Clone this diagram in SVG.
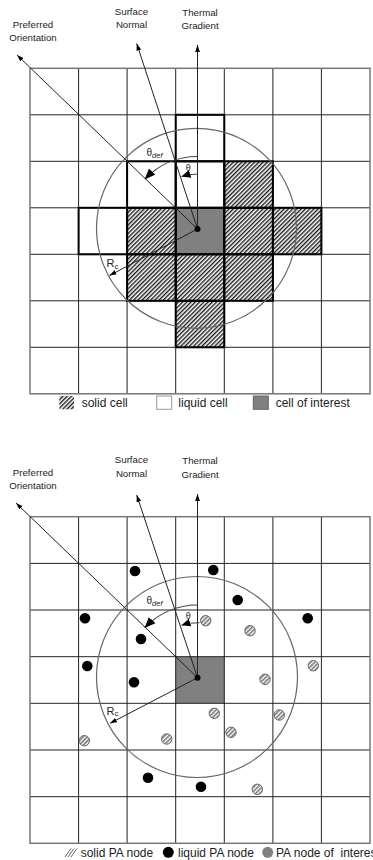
<svg xmlns="http://www.w3.org/2000/svg" width="373" height="860" viewBox="0 0 373 860">
<style>
.bg{fill:#fff}
.grid{stroke:#222;stroke-width:1;fill:none}
.border{stroke:#777;stroke-width:1.5;fill:none}
.bold{stroke:#000;stroke-width:2;fill:none}
.hatch{fill:url(#hatch)}
.interest{fill:#808080}
.ring{fill:none;stroke:#666;stroke-width:1.2}
.arrow{stroke:#222;stroke-width:1;fill:none;marker-end:url(#ah)}
.lbl{font-family:"Liberation Sans",Arial,sans-serif;font-size:9.7px;fill:#222;text-anchor:middle}
.sym{font-family:"Liberation Sans",Arial,sans-serif;fill:#222}
.leg{font-family:"Liberation Sans",Arial,sans-serif;font-size:12px;fill:#222}
.liq{fill:#000}
.sol{fill:url(#hatchNode);stroke:#666;stroke-width:1}
</style>
<defs>
<pattern id="hatch" patternUnits="userSpaceOnUse" width="3" height="3" patternTransform="rotate(45)">
<rect width="3" height="3" fill="#fff"/>
<line x1="0.7" y1="0" x2="0.7" y2="3" stroke="#1a1a1a" stroke-width="1.4"/>
</pattern>
<pattern id="hatchNode" patternUnits="userSpaceOnUse" width="3" height="3" patternTransform="rotate(45)">
<rect width="3" height="3" fill="#fff"/>
<line x1="0.8" y1="0" x2="0.8" y2="3" stroke="#777" stroke-width="1.6"/>
</pattern>
<marker id="ah" markerUnits="userSpaceOnUse" markerWidth="8" markerHeight="6" refX="7" refY="3" orient="auto"><path d="M0,0.6 L7,3 L0,5.4 z" fill="#000"/></marker>
<marker id="ahBig" markerUnits="userSpaceOnUse" markerWidth="12" markerHeight="10" refX="10" refY="5" orient="auto"><path d="M0,0.5 L11,5 L0,9.5 z" fill="#000"/></marker>
<marker id="ahMid" markerUnits="userSpaceOnUse" markerWidth="10" markerHeight="9" refX="9" refY="4.5" orient="auto"><path d="M0,0.5 L9,4.5 L0,8.5 z" fill="#000"/></marker>
</defs>
<rect class="bg" width="373" height="860"/>

<!-- ===== TOP DIAGRAM ===== -->
<g id="top-cells">
<rect class="hatch" x="224.3" y="161.3" width="48.6" height="46.5"/>
<rect class="hatch" x="127.1" y="207.8" width="48.6" height="46.5"/>
<rect class="hatch" x="224.3" y="207.8" width="48.6" height="46.5"/>
<rect class="hatch" x="272.9" y="207.8" width="48.5" height="46.5"/>
<rect class="hatch" x="127.1" y="254.3" width="48.6" height="46.5"/>
<rect class="hatch" x="175.7" y="254.3" width="48.6" height="46.5"/>
<rect class="hatch" x="224.3" y="254.3" width="48.6" height="46.5"/>
<rect class="hatch" x="175.7" y="300.8" width="48.6" height="46.5"/>
<rect class="interest" x="175.7" y="207.8" width="48.6" height="46.5"/>
</g>
<g id="top-grid">
<path class="grid" d="M78.6,68.3V393.8M127.1,68.3V393.8M175.7,68.3V393.8M224.3,68.3V393.8M272.9,68.3V393.8M321.4,68.3V393.8M30,114.8H370M30,161.3H370M30,207.8H370M30,254.3H370M30,300.8H370M30,347.3H370"/>
<rect class="border" x="30" y="68.3" width="340" height="325.5"/>
</g>
<g id="top-bold">
<rect class="bold" x="175.7" y="114.8" width="48.6" height="46.5"/>
<rect class="bold" x="127.1" y="161.3" width="48.6" height="46.5"/>
<rect class="bold" x="175.7" y="161.3" width="48.6" height="46.5"/>
<rect class="bold" x="224.3" y="161.3" width="48.6" height="46.5"/>
<rect class="bold" x="78.6" y="207.8" width="48.5" height="46.5"/>
<rect class="bold" x="127.1" y="207.8" width="48.6" height="46.5"/>
<rect class="bold" x="175.7" y="207.8" width="48.6" height="46.5"/>
<rect class="bold" x="224.3" y="207.8" width="48.6" height="46.5"/>
<rect class="bold" x="272.9" y="207.8" width="48.5" height="46.5"/>
<rect class="bold" x="127.1" y="254.3" width="48.6" height="46.5"/>
<rect class="bold" x="175.7" y="254.3" width="48.6" height="46.5"/>
<rect class="bold" x="224.3" y="254.3" width="48.6" height="46.5"/>
<rect class="bold" x="175.7" y="300.8" width="48.6" height="46.5"/>
</g>
<g id="top-circle"><circle class="ring" cx="196.5" cy="228.3" r="100"/></g>
<g id="top-connectors">
<path class="arrow" d="M197.5,229 L17,55"/>
<path class="arrow" d="M197.5,229 L136.7,43.5"/>
<path class="arrow" d="M197.5,229 L197.5,45"/>
<path class="arrow" d="M197.5,229 L109.5,275.5"/>
<path d="M197.5,156.5 A72.5,72.5 0 0 0 145.3,178.7" stroke="#444" stroke-width="1.2" fill="none" marker-end="url(#ahBig)"/>
<path d="M198,174 A55,55 0 0 0 181.5,176.6" stroke="#444" stroke-width="1" fill="none" marker-end="url(#ahMid)"/>
</g>
<g id="top-center"><circle cx="197.5" cy="229" r="3" fill="#000"/></g>
<g id="top-labels">
<text class="lbl" x="33" y="27.5">Preferred</text>
<text class="lbl" x="33" y="40.7">Orientation</text>
<text class="lbl" x="131.5" y="15">Surface</text>
<text class="lbl" x="131.5" y="28.4">Normal</text>
<text class="lbl" x="200" y="16">Thermal</text>
<text class="lbl" x="200" y="29.4">Gradient</text>
<text class="sym" x="146.5" y="155.5" font-size="10">θ<tspan font-size="7.5" font-style="italic" dy="2">def</tspan></text>
<text class="sym" x="188.3" y="170.5" font-size="9" text-anchor="middle">θ</text>
<text class="sym" x="106.5" y="266.7" font-size="11">R<tspan font-size="8" dy="1.8">c</tspan></text>
</g>
<g id="top-legend">
<rect class="hatch" x="59.3" y="396" width="14.7" height="13.3"/>
<text class="leg" x="81.7" y="407">solid cell</text>
<rect x="156.7" y="396" width="15" height="13.3" fill="#fff" stroke="#999" stroke-width="1"/>
<text class="leg" x="178.3" y="407">liquid cell</text>
<rect x="253.3" y="396" width="15" height="13.3" fill="#808080" stroke="#666" stroke-width="1"/>
<text class="leg" x="275.7" y="407">cell of interest</text>
</g>

<!-- ===== BOTTOM DIAGRAM ===== -->
<g id="bottom-cells"><rect class="interest" x="175.7" y="656.7" width="48.6" height="46.6"/></g>
<g id="bottom-grid">
<path class="grid" d="M78.6,516.7V843.3M127.1,516.7V843.3M175.7,516.7V843.3M224.3,516.7V843.3M272.9,516.7V843.3M321.4,516.7V843.3M30,563.4H370M30,610H370M30,656.7H370M30,703.3H370M30,750H370M30,796.7H370"/>
<rect class="border" x="30" y="516.7" width="340" height="326.6"/>
</g>
<g id="bottom-circle"><circle class="ring" cx="197" cy="677" r="100.5" stroke="#444"/></g>
<g id="bottom-connectors">
<path class="arrow" d="M197.5,677.7 L16,503"/>
<path class="arrow" d="M197.5,677.7 L136.7,495"/>
<path class="arrow" d="M197.5,677.7 L197.5,494"/>
<path class="arrow" d="M197.5,677.7 L110,723.3"/>
<path d="M197.5,605 A72.7,72.7 0 0 0 145.2,627.3" stroke="#444" stroke-width="1.2" fill="none" marker-end="url(#ahBig)"/>
<path d="M199.5,622.7 A55,55 0 0 0 181.5,625.3" stroke="#444" stroke-width="1" fill="none" marker-end="url(#ahMid)"/>
</g>
<g id="bottom-center"><circle cx="197.5" cy="677.7" r="3" fill="#000"/></g>
<g id="pa-liquid-1"><circle class="liq" cx="135" cy="571" r="5.3"/></g>
<g id="pa-liquid-2"><circle class="liq" cx="213.3" cy="570" r="5.3"/></g>
<g id="pa-liquid-3"><circle class="liq" cx="237.7" cy="600" r="5.3"/></g>
<g id="pa-liquid-4"><circle class="liq" cx="85" cy="618.3" r="5.3"/></g>
<g id="pa-liquid-5"><circle class="liq" cx="307.7" cy="618.3" r="5.3"/></g>
<g id="pa-liquid-6"><circle class="liq" cx="141" cy="639" r="5.3"/></g>
<g id="pa-liquid-7"><circle class="liq" cx="87.3" cy="666" r="5.3"/></g>
<g id="pa-liquid-8"><circle class="liq" cx="134" cy="682.3" r="5.3"/></g>
<g id="pa-liquid-9"><circle class="liq" cx="148" cy="777.7" r="5.3"/></g>
<g id="pa-liquid-10"><circle class="liq" cx="201" cy="786.7" r="5.3"/></g>
<g id="pa-solid-1"><circle class="sol" cx="205.7" cy="620.7" r="5.2"/></g>
<g id="pa-solid-2"><circle class="sol" cx="250" cy="630.7" r="5.2"/></g>
<g id="pa-solid-3"><circle class="sol" cx="313.3" cy="665.7" r="5.2"/></g>
<g id="pa-solid-4"><circle class="sol" cx="265" cy="679.3" r="5.2"/></g>
<g id="pa-solid-5"><circle class="sol" cx="214.3" cy="713.3" r="5.2"/></g>
<g id="pa-solid-6"><circle class="sol" cx="279.3" cy="715" r="5.2"/></g>
<g id="pa-solid-7"><circle class="sol" cx="231" cy="732.3" r="5.2"/></g>
<g id="pa-solid-8"><circle class="sol" cx="84.3" cy="740.7" r="5.2"/></g>
<g id="pa-solid-9"><circle class="sol" cx="166.7" cy="739" r="5.2"/></g>
<g id="pa-solid-10"><circle class="sol" cx="257.3" cy="789.3" r="5.2"/></g>
<g id="bottom-labels">
<text class="lbl" x="33" y="475.5">Preferred</text>
<text class="lbl" x="33" y="488.7">Orientation</text>
<text class="lbl" x="131.5" y="463.3">Surface</text>
<text class="lbl" x="131.5" y="476.7">Normal</text>
<text class="lbl" x="200" y="464.3">Thermal</text>
<text class="lbl" x="200" y="477.5">Gradient</text>
<text class="sym" x="146.5" y="603.5" font-size="10">θ<tspan font-size="7.5" font-style="italic" dy="2">def</tspan></text>
<text class="sym" x="188.3" y="619" font-size="9" text-anchor="middle">θ</text>
<text class="sym" x="106.5" y="714.5" font-size="11">R<tspan font-size="8" dy="1.8">c</tspan></text>
</g>
<g id="bottom-legend">
<path d="M65,857 L71,848.5 M68,857 L74,848.5 M71,857 L77,848.5" stroke="#666" stroke-width="1"/>
<text class="leg" x="80.7" y="856.5">solid PA node</text>
<circle cx="168.3" cy="852.3" r="5.5" fill="#000"/>
<text class="leg" x="178" y="856.5">liquid PA node</text>
<circle cx="267.7" cy="852.3" r="5.5" fill="#808080"/>
<text class="leg" x="276" y="856.5" xml:space="preserve" style="white-space:pre">PA node of  interest</text>
</g>
</svg>
